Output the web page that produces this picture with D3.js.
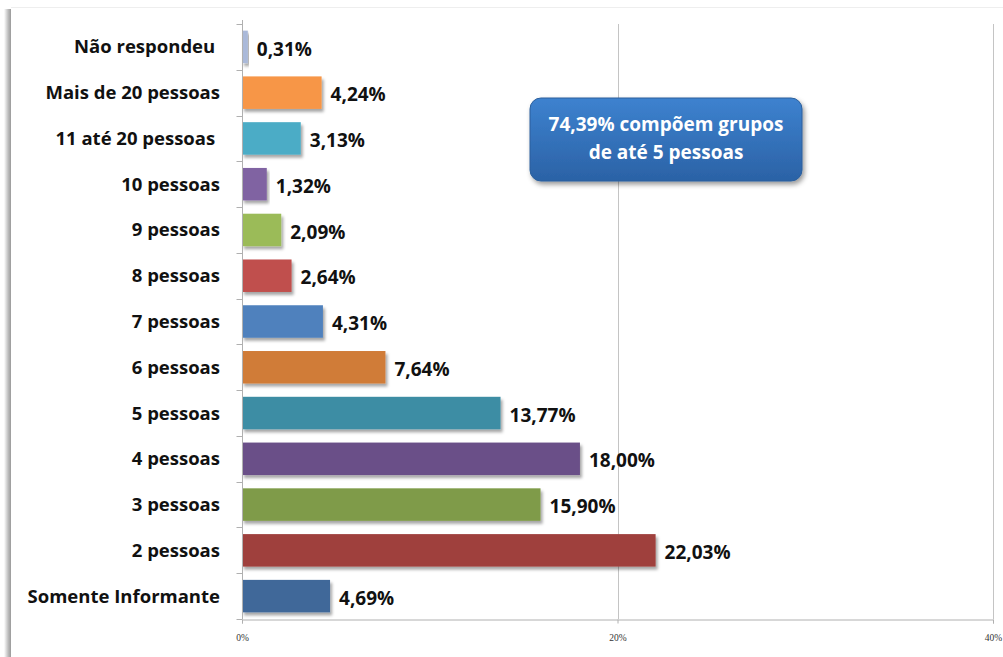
<!DOCTYPE html>
<html><head><meta charset="utf-8">
<script src="https://cdn.jsdelivr.net/npm/d3@7"></script>
<style>
html,body{margin:0;padding:0;background:#fff;}
svg{display:block;}
text{white-space:pre;}
</style></head>
<body>
<svg id="chart" width="1003" height="657"></svg>
<script>
const categories = ["Não respondeu ","Mais de 20 pessoas","11 até 20 pessoas ","10 pessoas","9 pessoas","8 pessoas","7 pessoas","6 pessoas","5 pessoas","4 pessoas","3 pessoas","2 pessoas","Somente Informante"];
const values = [0.31,4.24,3.13,1.32,2.09,2.64,4.31,7.64,13.77,18.00,15.90,22.03,4.69];
const barColors = ["#aab9d9","#f79646","#4bacc6","#8064a2","#9bbb59","#c0504d","#4f81bd","#d07b39","#3d8da4","#6a5088","#7f9b48","#9f403e","#3f6899"];
const xTicks = [0,20,40];
const calloutLines = ["74,39% compõem grupos","de até 5 pessoas"];

const FONT = "'Open Sans', sans-serif";
const FS = 19;
const svg = d3.select("#chart");
const defs = svg.append("defs");
const sh = defs.append("filter").attr("id","shadow").attr("x","-5%").attr("y","-20%").attr("width","115%").attr("height","160%");
sh.append("feDropShadow").attr("dx",2).attr("dy",3).attr("stdDeviation",1.6).attr("flood-color","#000").attr("flood-opacity",0.35);
const sh2 = defs.append("filter").attr("id","shadow2").attr("x","-10%").attr("y","-20%").attr("width","130%").attr("height","160%");
sh2.append("feDropShadow").attr("dx",2).attr("dy",3).attr("stdDeviation",2.5).attr("flood-color","#000").attr("flood-opacity",0.4);
const lg = defs.append("linearGradient").attr("id","boxg").attr("x1",0).attr("y1",0).attr("x2",0).attr("y2",1);
lg.append("stop").attr("offset","0%").attr("stop-color","#3d82cf");
lg.append("stop").attr("offset","100%").attr("stop-color","#2b62a6");
const fg = defs.append("linearGradient").attr("id","frameg").attr("x1",0).attr("y1",0).attr("x2",1).attr("y2",0);
fg.append("stop").attr("offset","0%").attr("stop-color","#ffffff");
fg.append("stop").attr("offset","60%").attr("stop-color","#bdbdbd");
fg.append("stop").attr("offset","100%").attr("stop-color","#9a9a9a");

// frame
svg.append("rect").attr("x",4).attr("y",9).attr("width",7).attr("height",648).attr("fill","url(#frameg)");
svg.append("line").attr("x1",11).attr("x2",1003).attr("y1",7.5).attr("y2",7.5).attr("stroke","#eeeeee");

const margin = {left:242, top:24};
const x = d3.scaleLinear().domain([0,40]).range([margin.left, 993]);
const y = d3.scaleBand().domain(categories).range([margin.top, 619]).paddingInner(0.29).paddingOuter(0.145);

// gridlines
svg.append("g").selectAll("line").data(xTicks.filter(d=>d>0)).join("line")
  .attr("x1",d=>Math.round(x(d))+0.5).attr("x2",d=>Math.round(x(d))+0.5)
  .attr("y1",margin.top).attr("y2",619).attr("stroke","#c4c4c4").attr("stroke-width",1);

// bars
svg.append("g").selectAll("rect").data(values).join("rect")
  .attr("x",x(0)).attr("y",(d,i)=>y(categories[i]))
  .attr("width",d=>x(d)-x(0)).attr("height",y.bandwidth())
  .attr("fill",(d,i)=>barColors[i]).attr("filter","url(#shadow)");

// y axis
const yAxisG = svg.append("g").attr("transform",`translate(${margin.left+0.5},0)`);
yAxisG.append("line").attr("y1",margin.top-4).attr("y2",619).attr("stroke","#b0b0b0");
const bounds = d3.range(categories.length+1).map(i=>margin.top + i*(619-margin.top)/categories.length);
yAxisG.selectAll("line.tk").data(bounds).join("line").attr("class","tk")
  .attr("x1",-6).attr("x2",0).attr("y1",d=>Math.round(d)+0.5).attr("y2",d=>Math.round(d)+0.5).attr("stroke","#b0b0b0");

// x axis
const xAxis = d3.axisBottom(x).tickValues(xTicks).tickSize(4).tickFormat(d=>d+"%");
const xg = svg.append("g").attr("transform","translate(0,619.5)").call(xAxis);
xg.select(".domain").attr("stroke","#b0b0b0");
xg.selectAll(".tick line").attr("stroke","#b0b0b0");
xg.selectAll(".tick text").attr("y",15).attr("font-family","Liberation Serif, serif").attr("font-size",9.5).attr("fill","#333");

// category labels
svg.append("g").selectAll("text").data(categories).join("text")
  .attr("x",220).attr("y",d=>y(d)+y.bandwidth()/2).attr("dy","0.35em")
  .attr("text-anchor","end").attr("font-family",FONT).attr("font-weight","bold")
  .attr("font-size",18.5).attr("fill","#111").text(d=>d);

// value labels
const fmt = d3.format(".2f");
svg.append("g").selectAll("text").data(values).join("text")
  .attr("x",d=>x(d)+9).attr("y",(d,i)=>y(categories[i])+y.bandwidth()/2+2).attr("dy","0.35em")
  .attr("font-family",FONT).attr("font-weight","bold")
  .attr("font-size",FS).attr("fill","#111").text(d=>fmt(d).replace(".",",")+"%");

// callout
const box = svg.append("g");
box.append("rect").attr("x",530).attr("y",98).attr("width",272).attr("height",83).attr("rx",11)
  .attr("fill","url(#boxg)").attr("stroke","#2c5f9c").attr("stroke-width",1).attr("filter","url(#shadow2)");
box.selectAll("text").data(calloutLines).join("text")
  .attr("x",666).attr("y",(d,i)=>124+i*28).attr("dy","0.35em").attr("text-anchor","middle")
  .attr("font-family",FONT).attr("font-weight","bold").attr("font-size",FS).attr("fill","#fff").text(d=>d);
</script>
</body></html>
